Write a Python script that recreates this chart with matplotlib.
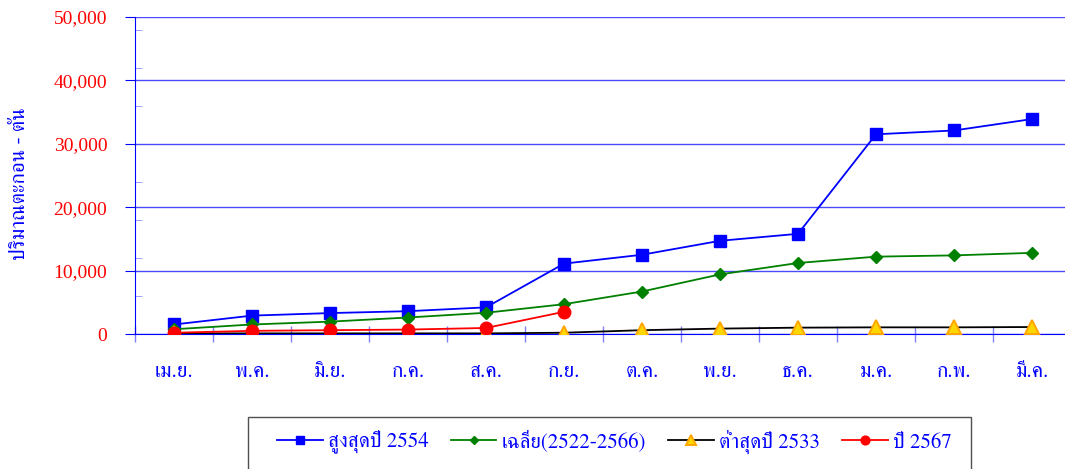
import matplotlib
matplotlib.use("Agg")
import matplotlib.pyplot as plt
from matplotlib import font_manager
from matplotlib.ft2font import FT2Font
from matplotlib.patches import Rectangle
from matplotlib.ticker import MultipleLocator, FuncFormatter

months = ["เม.ย.", "พ.ค.", "มิ.ย.", "ก.ค.", "ส.ค.", "ก.ย.",
          "ต.ค.", "พ.ย.", "ธ.ค.", "ม.ค.", "ก.พ.", "มี.ค."]
max_2554 = [1500, 2900, 3300, 3600, 4200, 11100, 12500, 14700, 15800, 31500, 32100, 33900]
avg_2522_2566 = [750, 1500, 1950, 2600, 3350, 4700, 6700, 9400, 11200, 12200, 12400, 12800]
min_2533 = [100, 100, 100, 100, 100, 200, 600, 850, 1000, 1050, 1050, 1100]
year_2567 = [200, 500, 600, 700, 950, 3500]
labels = ["สูงสุดปี 2554", "เฉลี่ย(2522-2566)", "ต่ำสุดปี 2533", "ปี 2567"]


# find something on the box that can draw thai
def thai_font():
    found = []
    for f in font_manager.fontManager.ttflist:
        try:
            if 0x0E2A in FT2Font(f.fname).get_charmap():
                found.append(f.name)
        except Exception:
            pass
    for pref in ["Serif", "serif"]:
        for n in found:
            if pref in n:
                return n
    return found[0] if found else "DejaVu Sans"


thai = thai_font()
fam = [thai, "Liberation Serif", "DejaVu Sans"]
plt.rcParams["font.family"] = fam

fig = plt.figure(figsize=(10.65, 4.69), dpi=100)
ax = fig.add_axes([135 / 1065, 135 / 469, 936 / 1065, 317 / 469])

x = list(range(len(months)))
ax.plot(x, max_2554, color="#0000ff", lw=1.3, marker="s", ms=9, label=labels[0], zorder=4)
ax.plot(x, avg_2522_2566, color="#008000", lw=1.3, marker="D", ms=6.5, label=labels[1], zorder=4)
ax.plot(x, min_2533, color="black", lw=1.3, marker="^", ms=9.5, mfc="#ffd700", mec="#ffa500",
        mew=1.4, label=labels[2], zorder=5)
ax.plot(x[:len(year_2567)], year_2567, color="#ff0000", lw=1.3, marker="o", ms=9,
        label=labels[3], zorder=6)

ax.set_xlim(-0.5, 11.5)
ax.set_ylim(0, 50000)
ax.yaxis.set_major_locator(MultipleLocator(10000))
ax.yaxis.set_minor_locator(MultipleLocator(6000))
ax.yaxis.set_major_formatter(FuncFormatter(lambda v, p: f"{int(v):,}"))
ax.grid(axis="y", color="#4a4aff", lw=1)
ax.set_axisbelow(True)

ax.set_xticks(x)
ax.set_xticklabels(months, color="#0000ff", fontsize=15, family=fam)
ax.set_xticks([i - 0.5 for i in range(13)], minor=True)
ax.tick_params(axis="x", which="major", length=0, pad=20)
ax.tick_params(axis="x", which="minor", direction="inout", length=12, color="#8080ff", width=1)
ax.tick_params(axis="y", which="major", length=7, color="#0000ff", pad=13,
               labelcolor="#ff0000", labelsize=14)
ax.tick_params(axis="y", which="minor", direction="in", length=5, color="#9090ff")
for t in ax.get_yticklabels():
    t.set_family(["Liberation Serif"])

for s in ["top", "right"]:
    ax.spines[s].set_visible(False)
for s in ["left", "bottom"]:
    ax.spines[s].set_color("#0000ff")

fig.text(20 / 1065, 1 - 184 / 469, "ปริมาณตะกอน - ตัน", rotation=90, color="#0000ff",
         fontsize=15, ha="center", va="center", family=fam)

# legend box is cut by the bottom edge in the original, so draw frame by hand
fig.patches.append(Rectangle((248 / 1065, -0.02), 723 / 1065, (469 - 417) / 469 + 0.02,
                             transform=fig.transFigure, fill=False, edgecolor="#505050", lw=1))
leg = fig.legend(loc="center left", bbox_to_anchor=(277 / 1065, 1 - 442 / 469),
                 ncol=4, frameon=False, borderaxespad=0, borderpad=0,
                 handlelength=2.2, handletextpad=0.25, columnspacing=1.05,
                 markerscale=0.7, prop={"family": fam, "size": 15})
for t in leg.get_texts():
    t.set_color("#0000ff")

fig.savefig("out.png", dpi=100)
